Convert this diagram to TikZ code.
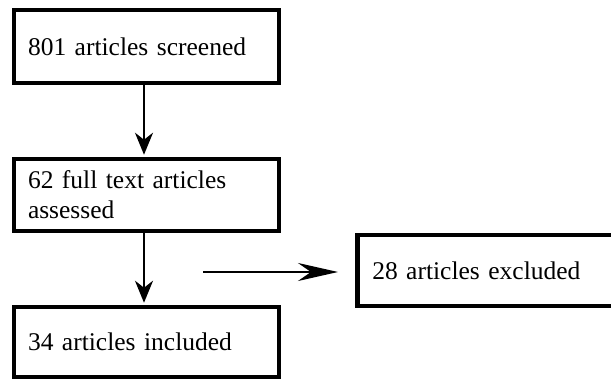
\documentclass[tikz,border=0pt]{standalone}
\usepackage{fontspec}
\setmainfont{Liberation Serif}
\usetikzlibrary{arrows.meta}
\begin{document}
\begin{tikzpicture}[x=1pt,y=-1pt,
  box/.style={draw=black,line width=4.5pt,rectangle,inner ysep=0pt,align=left,
    font=\fontsize{25.5}{30}\selectfont},
  leftbox/.style={box,minimum width=265pt,text width=237pt,inner xsep=14pt},
  conn/.style={line width=2.5pt,shorten >=2pt},
  vhead/.style={-{Stealth[length=22pt,width=18pt,inset=7pt]}},
  hhead/.style={-{Stealth[length=40pt,width=18pt,inset=13pt]}}
]
\useasboundingbox (0,0) rectangle (611,380);
\clip (0,0) rectangle (611,380);
\fill[white] (0,0) rectangle (611,380);
\node[leftbox,minimum height=73pt] (b1) at (146.5,46.5) {801 articles screened};
\node[leftbox,minimum height=72pt] (b2) at (146.5,195) {62 full text articles\\assessed};
\node[leftbox,minimum height=70pt] (b3) at (146.5,342) {34 articles included};
\node[box,minimum height=71pt,minimum width=296pt,text width=266pt,inner xsep=15pt,anchor=west] (b4) at (355,270.5) {28 articles excluded};
\draw[conn,vhead] ([xshift=-2.5pt]b1.south) -- ([xshift=-2.5pt]b2.north);
\draw[conn,vhead] ([xshift=-2.5pt]b2.south) -- ([xshift=-2.5pt]b3.north);
\coordinate (hs) at (203,272);
\coordinate (he) at (338,272);
\draw[line width=2.5pt,hhead] (hs) -- (he);
\end{tikzpicture}
\end{document}
